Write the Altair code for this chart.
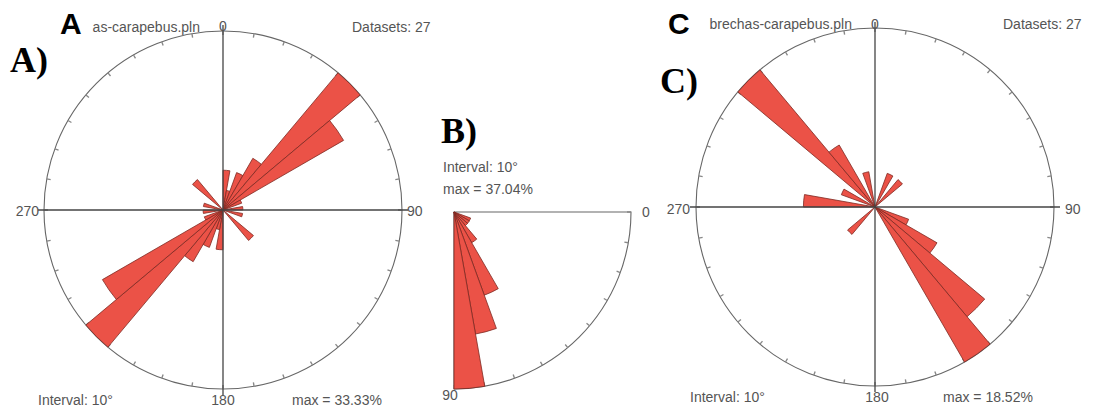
import math
import altair as alt
import pandas as pd

N_DATASETS = 27
INTERVAL = 10

# bin start angles (degrees)
bins_full = list(range(0, 360, 10))
bins_quarter = list(range(0, 90, 10))

# A) counts per 10-degree bin (0..350)
a_counts = [2, 1, 2, 3, 9, 7, 1, 0, 1, 0, 1, 0, 0, 2, 0, 0, 0, 0,
            2, 1, 2, 3, 9, 7, 1, 0, 1, 0, 1, 0, 0, 2, 0, 0, 0, 0]
# B) counts per 10-degree bin (0..80)
b_counts = [0, 0, 1, 1, 1, 2, 5, 7, 10]
# C) counts per 10-degree bin (0..350)
c_counts = [0, 0, 1, 0, 1, 0, 0, 0, 0, 0, 0, 1, 2, 4, 5, 0, 0, 0,
            0, 0, 0, 0, 1, 0, 0, 0, 0, 2, 0, 1, 0, 5, 2, 0, 1, 0]

file_a = "as-carapebus.pln"
file_c = "brechas-carapebus.pln"

FILL = "#EB5247"
EDGE = "#7d2a22"
GRID = "#666666"
TXT = "#555555"
SANS = "Liberation Sans"
SERIF = "Liberation Serif"
TWO_PI = 2 * math.pi


def petals(starts, counts, cx, cy, R, trange):
    df = pd.DataFrame({"start": starts, "count": counts})
    mx = max(counts) / N_DATASETS * 100
    return (
        alt.Chart(df)
        .transform_filter("datum.count > 0")
        .transform_calculate(end=f"datum.start + {INTERVAL}",
                             pct=f"datum.count / {N_DATASETS} * 100")
        .mark_arc(x=cx, y=cy, fill=FILL, stroke=EDGE, strokeWidth=0.8)
        .encode(
            theta=alt.Theta("start:Q", stack=False,
                            scale=alt.Scale(domain=[0, 360], range=trange)),
            theta2="end:Q",
            radius=alt.Radius("pct:Q", scale=alt.Scale(type="linear", zero=True,
                                                       domain=[0, mx], range=[0, R])),
        )
    )


def ticks(angles, cx, cy, R, trange):
    df = pd.DataFrame({"deg": angles})
    return (
        alt.Chart(df)
        .transform_calculate(a0="datum.deg - 0.22", a1="datum.deg + 0.22")
        .mark_arc(x=cx, y=cy, radius=R, radius2=R - 4, fill="#888888")
        .encode(
            theta=alt.Theta("a0:Q", stack=False,
                            scale=alt.Scale(domain=[0, 360], range=trange)),
            theta2="a1:Q",
        )
    )


def outline(cx, cy, R, t0, t1):
    return (
        alt.Chart(pd.DataFrame({"k": [0]}))
        .mark_arc(x=cx, y=cy, radius=R, theta=t0, theta2=t1,
                  fillOpacity=0, fill="white", stroke=GRID, strokeWidth=1.1)
        .encode(color=alt.value("white"))
    )


def hline(x1, x2, y):
    return alt.Chart(pd.DataFrame({"k": [0]})).mark_rule(
        color="#444444", strokeWidth=1.3
    ).encode(x=alt.value(x1), x2=alt.value(x2), y=alt.value(y))


def vline(x, y1, y2):
    return alt.Chart(pd.DataFrame({"k": [0]})).mark_rule(
        color="#444444", strokeWidth=1.3
    ).encode(x=alt.value(x), y=alt.value(y1), y2=alt.value(y2))


def label(text, x, y, size=14, align="left", color=TXT, font=SANS, weight="normal"):
    return alt.Chart(pd.DataFrame({"t": [text]})).mark_text(
        x=x, y=y, align=align, baseline="middle", fontSize=size,
        font=font, fontWeight=weight, color=color
    ).encode(text="t:N")


def max_text(counts):
    return f"max = {max(counts) / N_DATASETS * 100:.2f}%"


layers = []

# ---------- Panel A ----------
ax, ay, aR = 215, 202, 179
full_range = [0, TWO_PI]
layers += [
    outline(ax, ay, aR, 0, TWO_PI),
    ticks(bins_full, ax, ay, aR, full_range),
    petals(bins_full, a_counts, ax, ay, aR, full_range),
    hline(ax - aR - 6, ax + aR + 6, ay),
    vline(ax, ay - aR - 6, ay + aR + 6),
    label(file_a, 192, 20, align="right"),
    label("A", 52, 17, size=30, color="black", weight="bold"),
    label("0", ax, 19, align="center"),
    label(f"Datasets: {N_DATASETS}", 344, 20),
    label("A)", 2, 53, size=36, color="black", font=SERIF, weight="bold"),
    label("270", 31, 204, align="right"),
    label("90", 399, 204),
    label(f"Interval: {INTERVAL}°", 30, 393),
    label("180", ax, 393, align="center"),
    label(max_text(a_counts), 284, 393),
]

# ---------- Panel B ----------
bx, by, bR = 446, 204, 177
q_range = [math.pi / 2, math.pi / 2 + TWO_PI]
layers += [
    outline(bx, by, bR, math.pi / 2, math.pi),
    ticks(bins_quarter + [90], bx, by, bR, q_range),
    petals(bins_quarter, b_counts, bx, by, bR, q_range),
    label("B)", 433, 124, size=36, color="black", font=SERIF, weight="bold"),
    label(f"Interval: {INTERVAL}°", 435, 160),
    label(max_text(b_counts), 435, 182),
    label("0", 634, 205),
    label("90", 442, 388, align="center"),
]

# ---------- Panel C ----------
cx, cy, cR = 867, 199, 179
layers += [
    outline(cx, cy, cR, 0, TWO_PI),
    ticks(bins_full, cx, cy, cR, full_range),
    petals(bins_full, c_counts, cx, cy, cR, full_range),
    hline(cx - cR - 6, cx + cR + 6, cy),
    vline(cx, cy - cR - 6, cy + cR + 6),
    label(file_c, 844, 17, align="right"),
    label("C", 660, 17, size=30, color="black", weight="bold"),
    label("0", cx, 17, align="center"),
    label(f"Datasets: {N_DATASETS}", 995, 17),
    label("C)", 652, 74, size=36, color="black", font=SERIF, weight="bold"),
    label("270", 682, 202, align="right"),
    label("90", 1057, 202),
    label(f"Interval: {INTERVAL}°", 682, 390),
    label("180", cx + 2, 390, align="center"),
    label(max_text(c_counts), 935, 390),
]

chart = (
    alt.layer(*layers)
    .resolve_scale(theta="independent", radius="independent")
    .properties(width=1081, height=403, padding=0,
                autosize=alt.AutoSizeParams(type="none"), background="white")
    .configure_view(strokeWidth=0)
)

chart.save("out.html", embed_options={"renderer": "svg", "actions": False})
